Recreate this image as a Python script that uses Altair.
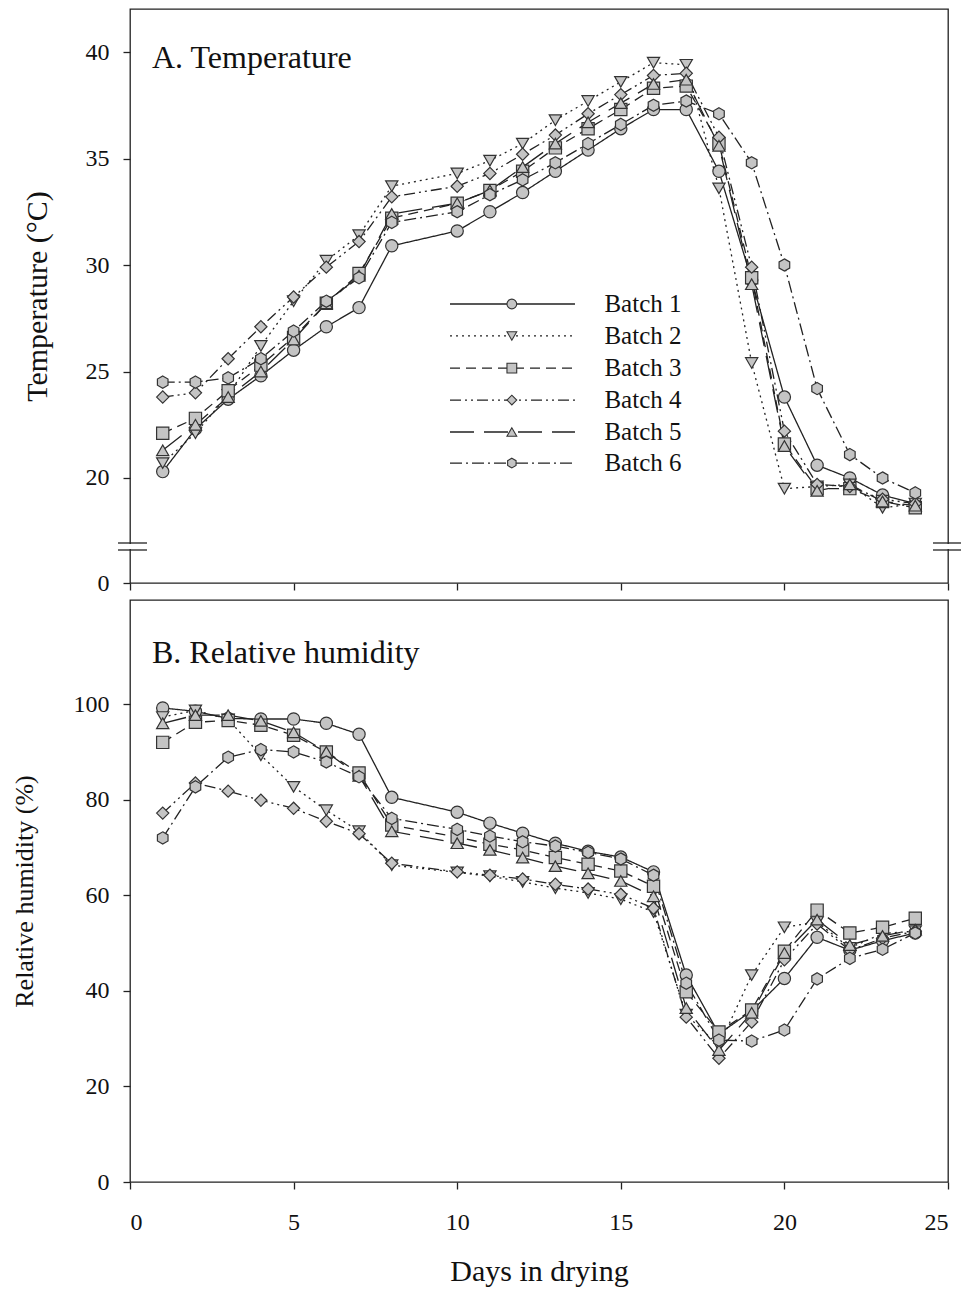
import altair as alt
import pandas as pd

days = [1, 2, 3, 4, 5, 6, 7, 8, 10, 11, 12, 13, 14, 15, 16, 17, 18, 19, 20, 21, 22, 23, 24]
batches = ["Batch 1", "Batch 2", "Batch 3", "Batch 4", "Batch 5", "Batch 6"]

temp_b1 = [20.3, 22.3, 23.7, 24.8, 26.0, 27.1, 28.0, 30.9, 31.6, 32.5, 33.4, 34.4, 35.4, 36.4, 37.3, 37.3, 34.4, 29.3, 23.8, 20.6, 20.0, 19.2, 18.8]
temp_b2 = [20.7, 22.1, 23.9, 26.2, 28.3, 30.2, 31.4, 33.7, 34.3, 34.9, 35.7, 36.8, 37.7, 38.6, 39.5, 39.4, 33.6, 25.4, 19.5, 19.6, 19.7, 18.6, 18.8]
temp_b3 = [22.1, 22.8, 24.1, 25.3, 26.6, 28.2, 29.6, 32.2, 32.9, 33.5, 34.4, 35.5, 36.4, 37.3, 38.3, 38.4, 35.7, 29.4, 21.6, 19.5, 19.5, 18.9, 18.6]
temp_b4 = [23.8, 24.0, 25.6, 27.1, 28.5, 29.9, 31.1, 33.2, 33.7, 34.3, 35.2, 36.1, 37.1, 38.0, 38.9, 39.0, 36.0, 29.9, 22.2, 19.7, 19.6, 19.0, 18.8]
temp_b5 = [21.3, 22.5, 23.8, 25.0, 26.5, 28.2, 29.5, 32.4, 32.9, 33.5, 34.6, 35.7, 36.7, 37.6, 38.5, 38.7, 35.6, 29.1, 21.5, 19.4, 19.7, 18.9, 18.7]
temp_b6 = [24.5, 24.5, 24.7, 25.6, 26.9, 28.3, 29.4, 32.0, 32.5, 33.3, 34.0, 34.8, 35.7, 36.6, 37.5, 37.7, 37.1, 34.8, 30.0, 24.2, 21.1, 20.0, 19.3]

rh_b1 = [99.2, 98.5, 97.0, 96.9, 96.9, 96.0, 93.7, 80.5, 77.4, 75.1, 73.0, 70.9, 69.2, 68.0, 64.9, 43.3, 31.0, 35.8, 42.6, 51.2, 48.5, 50.5, 52.1]
rh_b2 = [97.3, 98.7, 96.8, 89.3, 82.7, 77.8, 73.4, 66.3, 64.8, 64.0, 62.8, 61.5, 60.5, 59.2, 56.5, 35.0, 28.5, 43.3, 53.3, 54.4, 49.0, 52.0, 52.5]
rh_b3 = [92.0, 96.2, 96.6, 95.6, 93.5, 90.0, 85.6, 74.7, 72.2, 70.7, 69.5, 67.9, 66.5, 65.1, 61.9, 39.8, 31.4, 36.0, 48.3, 56.9, 52.1, 53.3, 55.2]
rh_b4 = [77.2, 83.5, 81.8, 79.9, 78.2, 75.5, 72.9, 66.7, 64.9, 64.2, 63.4, 62.3, 61.3, 60.2, 57.3, 34.5, 25.9, 33.5, 46.5, 54.0, 48.5, 51.0, 52.5]
rh_b5 = [96.0, 97.7, 97.7, 96.5, 94.1, 90.0, 85.0, 73.4, 70.9, 69.5, 67.9, 66.1, 64.6, 63.0, 59.8, 36.4, 27.6, 35.4, 47.9, 54.9, 49.6, 51.5, 52.8]
rh_b6 = [72.0, 82.7, 88.9, 90.5, 90.0, 87.9, 84.8, 76.1, 73.8, 72.4, 71.2, 70.3, 69.0, 67.6, 64.2, 41.6, 29.7, 29.5, 31.8, 42.5, 46.8, 48.7, 52.1]

temps = [temp_b1, temp_b2, temp_b3, temp_b4, temp_b5, temp_b6]
rhs = [rh_b1, rh_b2, rh_b3, rh_b4, rh_b5, rh_b6]

HEX = "M0,-1L0.866,-0.5L0.866,0.5L0,1L-0.866,0.5L-0.866,-0.5Z"
shapes = ["circle", "triangle-down", "square", "diamond", "triangle-up", HEX]
dashes = [[1, 0], [2, 4], [10, 6], [11, 4, 2, 4, 2, 4], [24, 10], [12, 4, 2, 4]]

SERIF = "Liberation Serif"
INK = "#222222"
FILL = "#c4c4c4"


def long_df(series):
    rows = []
    for b, vals in zip(batches, series):
        for d, v in zip(days, vals):
            rows.append({"day": d, "batch": b, "value": v})
    return pd.DataFrame(rows)


temp_df = long_df(temps)
rh_df = long_df(rhs)

shape_scale = alt.Scale(domain=batches, range=shapes)
dash_scale = alt.Scale(domain=batches, range=dashes)

T_LO = 15.07
T_HI = 42.02

W = 818
H_TOP = 574
H_BOT = 582

one = pd.DataFrame({"a": [0]})

x_scale = alt.Scale(domain=[0, 25], nice=False)
x_top_axis = alt.Axis(values=[0, 5, 10, 15, 20, 25], labels=False, title=None)
t_scale = alt.Scale(domain=[T_LO, T_HI], nice=False, zero=False)
t_axis = alt.Axis(values=[T_LO, 20, 25, 30, 35, 40],
                  labelExpr="datum.value < 19 ? '0' : datum.label",
                  title="Temperature (°C)", titleFontSize=30, titlePadding=33)


def series_layers(df, x_enc, y_enc):
    lines = alt.Chart(df).mark_line(color=INK, strokeWidth=1.3).encode(
        x=x_enc, y=y_enc,
        strokeDash=alt.StrokeDash("batch:N", scale=dash_scale, legend=None),
        order="day:Q",
    )
    pts = alt.Chart(df).mark_point(
        filled=True, fill=FILL, stroke="#333333", strokeWidth=1.2, size=150, opacity=1
    ).encode(
        x=x_enc, y=y_enc,
        shape=alt.Shape("batch:N", scale=shape_scale, legend=None),
    )
    return [lines, pts]


# ---------- top panel ----------
x_top = alt.X("day:Q", scale=x_scale, axis=x_top_axis)
y_top = alt.Y("value:Q", scale=t_scale, axis=t_axis)

# legend built inside the top panel
leg_rows = [28.17, 26.67, 25.16, 23.66, 22.16, 20.70]
leg_df = pd.DataFrame({
    "batch": batches,
    "value": leg_rows,
    "day": [9.78] * 6,
    "day2": [13.6] * 6,
    "xm": [11.67] * 6,
    "xt": [14.5] * 6,
})
leg_lines = alt.Chart(leg_df).mark_rule(color=INK, strokeWidth=1.3).encode(
    x=alt.X("day:Q", scale=x_scale, axis=x_top_axis), x2="day2:Q",
    y=y_top,
    strokeDash=alt.StrokeDash("batch:N", scale=dash_scale, legend=None),
)
leg_pts = alt.Chart(leg_df).mark_point(
    filled=True, fill=FILL, stroke="#333333", strokeWidth=1.1, size=95, opacity=1
).encode(
    x=alt.X("xm:Q", scale=x_scale, axis=x_top_axis), y=y_top,
    shape=alt.Shape("batch:N", scale=shape_scale, legend=None),
)
leg_txt = alt.Chart(leg_df).mark_text(
    align="left", baseline="middle", font=SERIF, fontSize=25, color="#111111"
).encode(
    x=alt.X("xt:Q", scale=x_scale, axis=x_top_axis), y=y_top, text="batch:N"
)

title_a = alt.Chart(one).mark_text(
    text="A. Temperature", align="left", baseline="alphabetic",
    font=SERIF, fontSize=32, color="#111111"
).encode(x=alt.value(22), y=alt.value(59))

# axis-break marks
brk = []
for xa, xb in [(-12, 17), (W - 15, W + 13)]:
    brk.append(alt.Chart(one).mark_rect(color="white").encode(
        x=alt.value(xa + 6), x2=alt.value(xb - 6), y=alt.value(535), y2=alt.value(540)))
    for yy in (534, 541):
        brk.append(alt.Chart(one).mark_rule(color=INK, strokeWidth=1.3).encode(
            x=alt.value(xa), x2=alt.value(xb), y=alt.value(yy)))

top = alt.layer(
    *series_layers(temp_df, x_top, y_top),
    leg_lines, leg_pts, leg_txt, title_a, *brk
).properties(width=W, height=H_TOP)

# ---------- bottom panel ----------
x_bot = alt.X("day:Q", scale=x_scale,
              axis=alt.Axis(values=[0, 5, 10, 15, 20, 25], title="Days in drying",
                            labelPadding=21, titlePadding=22, titleFontSize=30))
y_bot = alt.Y("value:Q", scale=alt.Scale(domain=[0, 121.8], nice=False),
              axis=alt.Axis(values=[0, 20, 40, 60, 80, 100], title="Relative humidity (%)",
                            titleFontSize=26, titlePadding=36))

title_b = alt.Chart(one).mark_text(
    text="B. Relative humidity", align="left", baseline="alphabetic",
    font=SERIF, fontSize=32, color="#111111"
).encode(x=alt.value(22), y=alt.value(63))

bottom = alt.layer(
    *series_layers(rh_df, x_bot, y_bot), title_b
).properties(width=W, height=H_BOT)

chart = alt.vconcat(top, bottom, spacing=3).properties(
    padding={"left": 2, "top": 0, "right": 0, "bottom": 0}
).configure_view(
    stroke=INK, strokeWidth=1.3
).configure_axis(
    domain=False, grid=False,
    tickColor=INK, tickSize=7, tickWidth=1.3,
    labelFont=SERIF, labelFontSize=24, labelColor="#111111", labelPadding=14,
    titleFont=SERIF, titleFontSize=28, titleFontWeight="normal", titleColor="#111111",
    titlePadding=36,
)

chart.save("out.html", embed_options={"renderer": "svg", "actions": False})
